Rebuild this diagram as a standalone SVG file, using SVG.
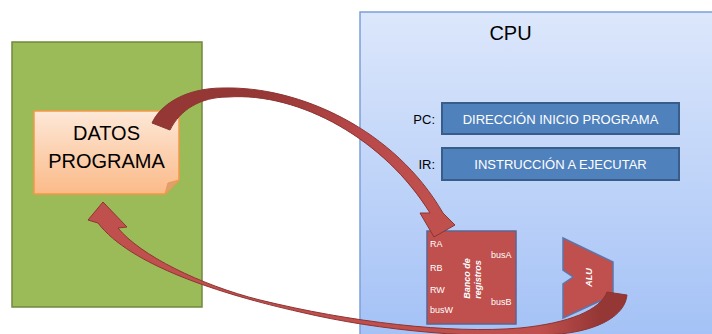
<svg xmlns="http://www.w3.org/2000/svg" width="712" height="334" viewBox="0 0 712 334">
<defs>
<linearGradient id="noteGrad" x1="0" y1="0" x2="0" y2="1">
<stop offset="0" stop-color="#FDE8D8"/>
<stop offset="1" stop-color="#FBBA88"/>
</linearGradient>
<linearGradient id="cpuGrad" x1="0" y1="0" x2="0" y2="1">
<stop offset="0" stop-color="#DCE7FB"/>
<stop offset="1" stop-color="#A3C1F6"/>
</linearGradient>
<linearGradient id="arr1Grad" gradientUnits="userSpaceOnUse" x1="260" y1="90" x2="420" y2="200">
<stop offset="0" stop-color="#953735"/>
<stop offset="0.55" stop-color="#B9484A"/>
<stop offset="1" stop-color="#C0504D"/>
</linearGradient>
<linearGradient id="arr2Grad" gradientUnits="userSpaceOnUse" x1="540" y1="0" x2="600" y2="0">
<stop offset="0" stop-color="#C0504D"/>
<stop offset="1" stop-color="#953735"/>
</linearGradient>
</defs>
<style>
text { font-family: "Liberation Sans", Arial, sans-serif; }
.big { font-size: 20px; fill: #000; text-anchor: middle; }
.lbl { font-size: 13px; fill: #000; text-anchor: end; }
.reg { fill: #4F81BD; stroke: #385D8A; stroke-width: 2; }
.regtxt { font-size: 13px; fill: #FFFFFF; text-anchor: middle; }
.small { font-size: 9px; fill: #FFFFFF; }
.bi { font-size: 9px; fill: #FFFFFF; font-weight: bold; font-style: italic; text-anchor: middle; }
.arrow { stroke: #8C3533; stroke-width: 1; stroke-linejoin: round; }
</style>

<g id="memoria">
<rect x="12" y="42" width="190" height="265" fill="#9BBB59" stroke="#71893F" stroke-width="1.5"/>
</g>

<g id="datos-programa">
<path d="M34,111 H179 V180 L165,194 H34 Z" fill="url(#noteGrad)" stroke="#F79646" stroke-width="1.5"/>
<path d="M179,180 L165,194 L168,183 Z" fill="#D9A276" stroke="#F79646" stroke-width="1"/>
<text class="big" x="106.5" y="140">DATOS</text>
<text class="big" x="106.5" y="168">PROGRAMA</text>
</g>

<g id="cpu">
<rect x="360" y="12" width="360" height="330" fill="url(#cpuGrad)" stroke="#7BA0D8" stroke-width="1.5"/>
<text x="510.5" y="40" font-size="20" text-anchor="middle" fill="#000">CPU</text>
</g>

<g id="pc">
<text class="lbl" x="435" y="124">PC:</text>
<rect class="reg" x="442" y="103" width="237" height="31"/>
<text class="regtxt" x="560.5" y="124">DIRECCIÓN INICIO PROGRAMA</text>
</g>

<g id="ir">
<text class="lbl" x="435" y="169">IR:</text>
<rect class="reg" x="442" y="148" width="237" height="32"/>
<text class="regtxt" x="560.5" y="169">INSTRUCCIÓN A EJECUTAR</text>
</g>

<g id="banco-registros">
<rect x="427" y="231" width="89" height="93" fill="#C0504D" stroke="#5E6390" stroke-width="1.5"/>
<text class="small" x="430" y="246.5">RA</text>
<text class="small" x="430" y="270.5">RB</text>
<text class="small" x="430" y="293">RW</text>
<text class="small" x="430" y="313">busW</text>
<text class="small" x="491" y="258">busA</text>
<text class="small" x="491" y="305">busB</text>
<text class="bi" transform="translate(470,278.5) rotate(-90)">Banco de</text>
<text class="bi" transform="translate(481,279.5) rotate(-90)">registros</text>
</g>

<g id="alu">
<path d="M563,238 L613,262 L613,295 L563,318 L563,284 L573,277 L563,270 Z" fill="#C0504D" stroke="#5E74A8" stroke-width="1.5" stroke-linejoin="miter"/>
<text class="bi" font-size="9.5" transform="translate(592,277.5) rotate(-90)">ALU</text>
</g>

<g id="connectors">
<path class="arrow" fill="url(#arr1Grad)" d="M152,123 C160,105 185,88 223,88 C300,86 395,130 443,213 L455,225 L434,237 L420,213 L430,213 C385,140 300,92 228,97 C200,97 180,110 170,130 Z"/>
<path class="arrow" fill="url(#arr2Grad)" d="M103,202 L127,227 L118,228 C140,255 200,285 260,300 C350,322 450,334 520,328 C570,323 600,310 607,292 L627,295 C625,315 600,330 560,334 C480,340 380,331 300,312 C220,294 130,265 98,223 L88,220 Z"/>
</g>
</svg>
